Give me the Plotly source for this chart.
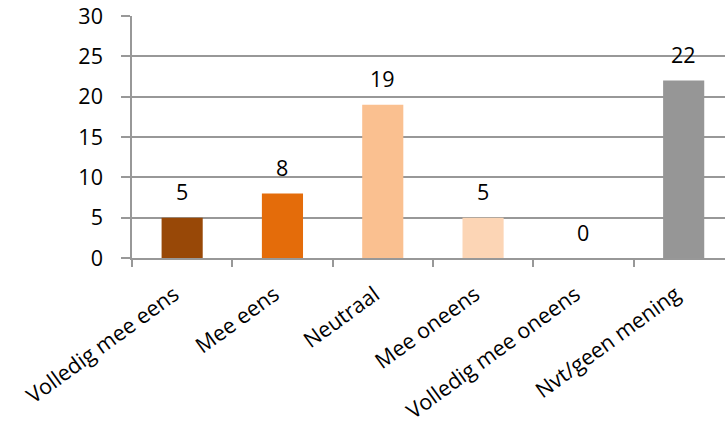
import plotly.graph_objects as go

categories = ["Volledig mee eens", "Mee eens", "Neutraal", "Mee oneens",
              "Volledig mee oneens", "Nvt/geen mening"]
values = [5, 8, 19, 5, 0, 22]
colors = ["#984807", "#E46C0A", "#FAC090", "#FCD5B5", "#FCD5B5", "#969696"]
y_ticks = [0, 5, 10, 15, 20, 25, 30]

FONT = "'Open Sans', Lato, sans-serif"
FSIZE = 21.5
GRID = "#989898"

fig = go.Figure(
    go.Bar(
        x=categories,
        y=values,
        marker=dict(color=colors, line=dict(width=0)),
        width=0.41,
        hoverinfo="x+y",
    )
)

# value labels above each bar
for cat, v in zip(categories, values):
    fig.add_annotation(
        x=cat, y=v, text=str(v), showarrow=False,
        yanchor="middle", yshift=26,
        font=dict(family=FONT, size=FSIZE, color="#000000"),
    )

fig.update_layout(
    width=725, height=438,
    margin=dict(l=132, r=0, t=16, b=180),
    paper_bgcolor="white", plot_bgcolor="white",
    showlegend=False,
    font=dict(family=FONT, size=FSIZE, color="#000000"),
)

fig.update_xaxes(
    type="category",
    range=[-0.5, 5.412],
    tickson="boundaries",
    ticks="outside", ticklen=7, tickwidth=1.5, tickcolor=GRID,
    showline=True, linecolor=GRID, linewidth=1.5,
    showgrid=False, tickangle=-36,
    ticklabelstandoff=14, ticklabelshift=-8,
    tickfont=dict(family=FONT, size=FSIZE, color="#000000"),
)

fig.update_yaxes(
    range=[0, 30],
    tickvals=y_ticks,
    ticks="outside", ticklen=9, tickwidth=1.5, tickcolor=GRID,
    showline=True, linecolor=GRID, linewidth=1.5,
    showgrid=True, gridcolor=GRID, gridwidth=1.5,
    zeroline=False,
    ticklabelstandoff=14,
    tickfont=dict(family=FONT, size=FSIZE, color="#000000"),
)

fig.write_html("out.html")
